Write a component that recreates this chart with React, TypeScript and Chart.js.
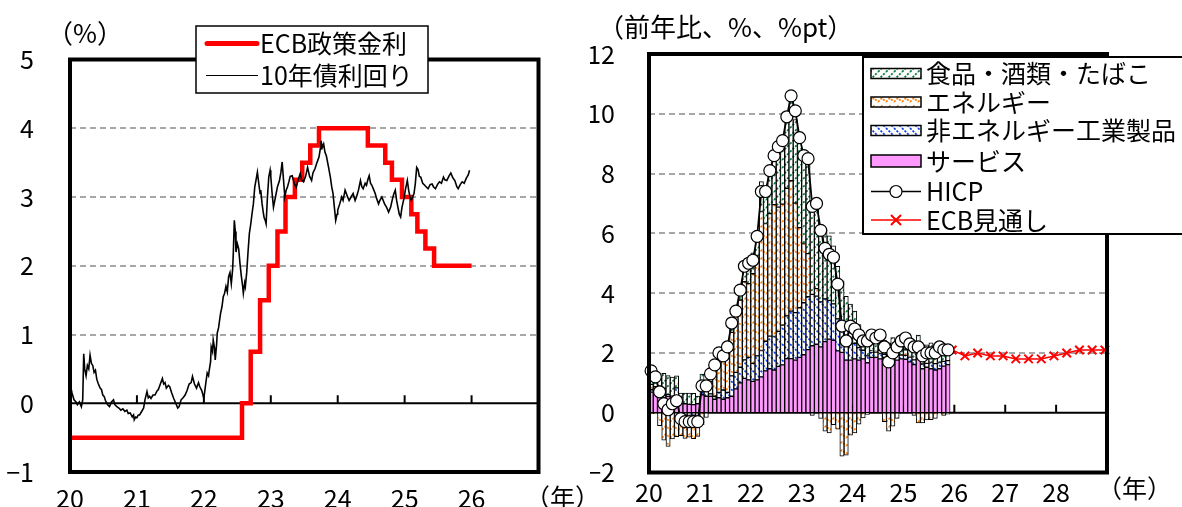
import React, { useEffect, useRef } from 'react';
import { Chart, registerables } from 'chart.js';

Chart.register(...registerables);

const FONT = '"Noto Sans CJK JP", "Noto Sans", sans-serif';

// ---------------- Left panel data ----------------
const leftYearLabels = ['20', '21', '22', '23', '24', '25', '26'];
const leftGridValues = [1, 2, 3, 4];

const policyDates = [2020.0, 2022.57, 2022.7, 2022.84, 2022.97, 2023.1, 2023.22, 2023.36, 2023.47, 2023.59, 2023.72, 2024.45, 2024.71, 2024.81, 2024.96, 2025.1, 2025.19, 2025.31, 2025.44, 2026.0];
const policyRates = [-0.5, 0, 0.75, 1.5, 2.0, 2.5, 3.0, 3.25, 3.5, 3.75, 4.0, 3.75, 3.5, 3.25, 3.0, 2.75, 2.5, 2.25, 2.0, 2.0];

const yieldDates = [
  2020.0, 2020.03, 2020.06, 2020.09, 2020.11, 2020.14, 2020.17, 2020.19, 2020.205, 2020.22, 2020.24, 2020.26, 2020.28, 2020.3, 2020.32, 2020.34, 2020.36, 2020.38, 2020.4, 2020.42, 2020.45, 2020.47, 2020.49, 2020.51, 2020.53, 2020.55, 2020.57, 2020.59, 2020.62, 2020.65, 2020.67, 2020.7, 2020.73, 2020.76, 2020.79, 2020.82, 2020.85, 2020.87, 2020.9, 2020.93, 2020.95, 2020.96, 2020.98,
  2021.0, 2021.02, 2021.04, 2021.07, 2021.1, 2021.12, 2021.15, 2021.17, 2021.19, 2021.21, 2021.24, 2021.27, 2021.3, 2021.32, 2021.35, 2021.38, 2021.4, 2021.42, 2021.44, 2021.47, 2021.49, 2021.52, 2021.55, 2021.58, 2021.61, 2021.63, 2021.66, 2021.69, 2021.72, 2021.75, 2021.78, 2021.81, 2021.83, 2021.86, 2021.89, 2021.92, 2021.94, 2021.97,
  2022.0, 2022.03, 2022.05, 2022.07, 2022.08, 2022.1, 2022.11, 2022.13, 2022.14, 2022.16, 2022.17, 2022.19, 2022.2, 2022.22, 2022.25, 2022.27, 2022.29, 2022.31, 2022.33, 2022.35, 2022.37, 2022.39, 2022.41, 2022.43, 2022.44, 2022.455, 2022.47, 2022.48, 2022.5, 2022.52, 2022.54, 2022.56, 2022.58, 2022.59, 2022.61, 2022.62, 2022.64, 2022.66, 2022.68, 2022.7, 2022.72, 2022.74, 2022.76, 2022.78, 2022.8, 2022.82, 2022.84, 2022.85, 2022.87, 2022.89, 2022.9, 2022.92, 2022.93, 2022.95, 2022.97, 2022.99,
  2023.0, 2023.02, 2023.04, 2023.06, 2023.07, 2023.1, 2023.13, 2023.15, 2023.17, 2023.19, 2023.21, 2023.23, 2023.25, 2023.27, 2023.29, 2023.32, 2023.35, 2023.38, 2023.41, 2023.44, 2023.46, 2023.49, 2023.52, 2023.55, 2023.58, 2023.61, 2023.63, 2023.66, 2023.69, 2023.72, 2023.74, 2023.75, 2023.77, 2023.79, 2023.81, 2023.83, 2023.86, 2023.89, 2023.91, 2023.93, 2023.95, 2023.97, 2023.99,
  2024.0, 2024.03, 2024.06, 2024.08, 2024.11, 2024.14, 2024.17, 2024.2, 2024.23, 2024.26, 2024.28, 2024.31, 2024.34, 2024.36, 2024.38, 2024.41, 2024.43, 2024.45, 2024.47, 2024.49, 2024.51, 2024.54, 2024.56, 2024.58, 2024.61, 2024.63, 2024.66, 2024.68, 2024.7, 2024.73, 2024.76, 2024.79, 2024.82, 2024.84, 2024.86, 2024.88, 2024.9, 2024.92, 2024.94, 2024.96, 2024.99,
  2025.01, 2025.04, 2025.06, 2025.08, 2025.1, 2025.12, 2025.14, 2025.16, 2025.18, 2025.2, 2025.22, 2025.24, 2025.27, 2025.3, 2025.32, 2025.35, 2025.38, 2025.41, 2025.43, 2025.46, 2025.49, 2025.52, 2025.55, 2025.58, 2025.6, 2025.63, 2025.66, 2025.69, 2025.72, 2025.75, 2025.78, 2025.8, 2025.83, 2025.86, 2025.89, 2025.92, 2025.95, 2025.97,
];
const yieldValues = [
  0.29, 0.15, 0.05, 0.02, -0.02, 0.02, -0.05, 0.05, 0.72, 0.5, 0.4, 0.55, 0.5, 0.7, 0.58, 0.55, 0.45, 0.48, 0.35, 0.29, 0.22, 0.2, 0.12, 0.1, 0.04, 0.0, -0.03, -0.05, 0.02, 0.05, -0.02, -0.05, -0.07, -0.1, -0.08, -0.12, -0.1, -0.15, -0.14, -0.2, -0.17, -0.24, -0.2,
  -0.21, -0.17, -0.17, -0.12, -0.07, 0.05, 0.17, 0.08, 0.1, 0.07, 0.12, 0.12, 0.18, 0.2, 0.28, 0.36, 0.28, 0.3, 0.22, 0.26, 0.24, 0.15, 0.07, 0.0, -0.07, -0.05, 0.05, 0.08, 0.12, 0.19, 0.28, 0.3, 0.39, 0.28, 0.22, 0.3, 0.24, 0.18,
  0.07, 0.3, 0.44, 0.4, 0.48, 0.6, 0.82, 0.75, 0.92, 0.8, 0.63, 0.85, 1.02, 1.1, 1.31, 1.4, 1.55, 1.6, 1.7, 1.62, 1.84, 1.9, 1.74, 1.95, 2.18, 2.66, 2.5, 2.2, 2.32, 2.25, 2.03, 1.85, 1.7, 1.6, 1.75, 1.7, 1.9, 2.2, 2.47, 2.6, 2.76, 2.9, 3.14, 3.25, 3.36, 3.2, 3.05, 3.1, 2.9, 2.76, 2.7, 2.65, 2.61, 3.0, 3.29, 3.39,
  3.3, 3.05, 2.85, 2.95, 3.0, 3.15, 3.24, 3.35, 3.51, 3.25, 3.0, 3.1, 3.15, 3.22, 3.3, 3.31, 3.2, 3.14, 3.25, 3.34, 3.25, 3.22, 3.3, 3.43, 3.3, 3.24, 3.35, 3.41, 3.5, 3.58, 3.7, 3.82, 3.72, 3.77, 3.65, 3.6, 3.45, 3.29, 3.15, 3.05, 2.85, 2.66, 2.75,
  2.81, 2.9, 3.0, 2.95, 3.1, 3.02, 2.95, 3.0, 3.05, 2.95, 3.0, 3.1, 3.24, 3.15, 3.12, 3.2, 3.17, 3.25, 3.31, 3.2, 3.17, 3.1, 3.05, 2.98, 2.9, 2.95, 3.0, 2.95, 2.9, 2.85, 2.78, 2.85, 2.98, 3.05, 3.1, 2.95, 2.85, 2.75, 2.71, 2.85, 2.98,
  3.1, 3.24, 3.1, 3.0, 2.95, 3.0, 3.05, 3.2, 3.43, 3.4, 3.3, 3.29, 3.2, 3.17, 3.15, 3.12, 3.18, 3.19, 3.15, 3.12, 3.18, 3.22, 3.2, 3.29, 3.25, 3.24, 3.3, 3.35, 3.28, 3.24, 3.15, 3.12, 3.18, 3.22, 3.2, 3.27, 3.32, 3.39,
];

// ---------------- Right panel data ----------------
const START_YEAR = 2020; // monthly series start (Jan 2020)
const rightYearLabels = ['20', '21', '22', '23', '24', '25', '26', '27', '28'];
const rightGridValues = [2, 4, 6, 8, 10];

const hicp = [
  1.4, 1.2, 0.7, 0.3, 0.1, 0.3, 0.4, -0.2, -0.3, -0.3, -0.3, -0.3,
  0.9, 0.9, 1.3, 1.6, 2.0, 1.9, 2.2, 3.0, 3.4, 4.1, 4.9, 5.0,
  5.1, 5.9, 7.4, 7.4, 8.1, 8.6, 8.9, 9.1, 9.9, 10.6, 10.1, 9.2,
  8.6, 8.5, 6.9, 7.0, 6.1, 5.5, 5.3, 5.2, 4.3, 2.9, 2.4, 2.9,
  2.8, 2.6, 2.4, 2.4, 2.6, 2.5, 2.6, 2.2, 1.7, 2.0, 2.2, 2.4,
  2.5, 2.3, 2.2, 2.2, 1.9, 2.0, 2.0, 2.0, 2.2, 2.1, 2.1,
];
const services = [
  0.69, 0.74, 0.6, 0.5, 0.55, 0.5, 0.41, 0.32, 0.3, 0.28, 0.27, 0.3,
  0.6, 0.55, 0.55, 0.45, 0.5, 0.45, 0.5, 0.55, 0.8, 1.0, 1.15, 1.1,
  1.05, 1.1, 1.2, 1.4, 1.47, 1.43, 1.55, 1.6, 1.81, 1.81, 1.76, 1.85,
  1.94, 2.11, 2.24, 2.29, 2.2, 2.38, 2.46, 2.42, 2.07, 2.02, 1.76, 1.76,
  1.8, 1.76, 1.8, 1.67, 1.85, 1.85, 1.8, 1.85, 1.76, 1.8, 1.76, 1.8,
  1.79, 1.7, 1.61, 1.84, 1.47, 1.52, 1.47, 1.43, 1.47, 1.56, 1.61,
];
const nonEnergyGoods = [
  0.08, 0.13, 0.08, 0.1, 0.05, 0.05, 0.42, -0.03, -0.08, -0.03, -0.08, -0.13,
  0.39, 0.26, 0.08, 0.1, 0.18, 0.31, 0.18, 0.68, 0.55, 0.52, 0.62, 0.75,
  0.6, 0.8, 0.88, 0.99, 1.09, 1.12, 1.17, 1.33, 1.43, 1.59, 1.59, 1.66,
  1.74, 1.77, 1.72, 1.61, 1.51, 1.43, 1.3, 1.22, 1.07, 0.91, 0.75, 0.65,
  0.52, 0.42, 0.29, 0.23, 0.18, 0.18, 0.18, 0.1, 0.1, 0.13, 0.16, 0.13,
  0.13, 0.16, 0.16, 0.16, 0.16, 0.13, 0.21, 0.21, 0.21, 0.16, 0.13,
];
const energy = [
  0.18, -0.03, -0.43, -0.92, -1.13, -0.88, -0.8, -0.74, -0.78, -0.79, -0.79, -0.66,
  -0.4, -0.16, 0.41, 0.99, 1.24, 1.2, 1.36, 1.46, 1.67, 2.25, 2.61, 2.47,
  3.0, 3.36, 4.65, 3.94, 4.1, 4.41, 4.16, 4.05, 4.27, 4.36, 3.66, 2.68,
  1.98, 1.44, -0.09, 0.25, -0.19, -0.62, -0.68, -0.4, -0.55, -1.45, -1.42, -0.75,
  -0.68, -0.38, -0.17, -0.06, 0.03, 0.02, 0.11, -0.3, -0.62, -0.45, -0.19, 0.01,
  0.18, 0.02, -0.09, -0.34, -0.34, -0.24, -0.23, -0.19, -0.04, -0.09, -0.05,
];
const food = [
  0.44, 0.46, 0.48, 0.72, 0.64, 0.64, 0.4, 0.34, 0.36, 0.38, 0.38, 0.26,
  0.3, 0.27, 0.23, 0.15, 0.13, 0.1, 0.33, 0.42, 0.42, 0.4, 0.46, 0.67,
  0.7, 0.84, 1.0, 1.26, 1.5, 1.78, 1.96, 2.12, 2.36, 2.7, 2.8, 2.85,
  2.9, 3.05, 3.1, 2.75, 2.55, 2.3, 2.16, 1.94, 1.76, 1.48, 1.38, 1.22,
  1.08, 0.77, 0.52, 0.56, 0.52, 0.5, 0.46, 0.48, 0.48, 0.58, 0.54, 0.52,
  0.46, 0.54, 0.58, 0.6, 0.64, 0.62, 0.66, 0.64, 0.6, 0.5, 0.5,
];
const projQuarters = ['25Q4', '26Q1', '26Q2', '26Q3', '26Q4', '27Q1', '27Q2', '27Q3', '27Q4', '28Q1', '28Q2', '28Q3', '28Q4'];
const projValues = [2.1, 1.9, 2.0, 1.9, 1.9, 1.8, 1.8, 1.8, 1.9, 2.0, 2.1, 2.1, 2.1];

// ---------------- helpers ----------------
const monthX = (i: number) => START_YEAR + (i + 0.5) / 12;
const quarterX = (q: string) => 2000 + Number(q.slice(0, 2)) + (Number(q.slice(3)) * 3 - 0.5) / 12;
const toPoints = (vals: number[]) => vals.map((v, i) => ({ x: monthX(i), y: v }));

function makePattern(kind: 'food' | 'energy' | 'neig'): CanvasPattern | string {
  const c = document.createElement('canvas');
  c.width = 8;
  c.height = 8;
  const g = c.getContext('2d');
  if (!g) return '#fff';
  g.fillStyle = '#ffffff';
  g.fillRect(0, 0, 8, 8);
  g.lineWidth = 1.7;
  g.setLineDash([2.2, 1.4]);
  if (kind === 'food') {
    g.strokeStyle = '#0c7a3c';
    for (let k = -1; k <= 1; k++) {
      g.beginPath();
      g.moveTo(k * 8, 8);
      g.lineTo(k * 8 + 8, 0);
      g.stroke();
    }
  } else if (kind === 'neig') {
    g.strokeStyle = '#1245e6';
    for (let k = -1; k <= 1; k++) {
      g.beginPath();
      g.moveTo(k * 8, 0);
      g.lineTo(k * 8 + 8, 8);
      g.stroke();
    }
  } else {
    g.strokeStyle = '#ff800a';
    g.beginPath();
    g.moveTo(0, 6);
    g.lineTo(4, 2);
    g.lineTo(8, 6);
    g.stroke();
  }
  const p = g.createPattern(c, 'repeat');
  return p || '#fff';
}

function text(ctx: CanvasRenderingContext2D, s: string, x: number, y: number, size = 25) {
  ctx.font = `${size}px ${FONT}`;
  ctx.textAlign = 'left';
  ctx.textBaseline = 'middle';
  ctx.fillStyle = '#000';
  ctx.fillText(s, x, y);
}

function drawFrameBase(chart: any, gridValues: number[]) {
  const { ctx, chartArea: a, scales } = chart;
  const x = scales.x;
  const y = scales.y;
  ctx.save();
  ctx.strokeStyle = '#8a8a8a';
  ctx.lineWidth = 1.7;
  ctx.setLineDash([6, 4]);
  for (const v of gridValues) {
    const py = Math.round(y.getPixelForValue(v));
    ctx.beginPath();
    ctx.moveTo(a.left, py);
    ctx.lineTo(a.right, py);
    ctx.stroke();
  }
  ctx.setLineDash([]);
  const y0 = y.getPixelForValue(0);
  ctx.strokeStyle = '#000';
  ctx.lineWidth = 2;
  ctx.beginPath();
  ctx.moveTo(a.left, y0);
  ctx.lineTo(a.right, y0);
  ctx.stroke();
  for (const t of x.ticks) {
    if (t.value <= x.min || t.value >= x.max) continue;
    const px = x.getPixelForValue(t.value);
    ctx.beginPath();
    ctx.moveTo(px, y0);
    ctx.lineTo(px, y0 - 8);
    ctx.stroke();
  }
  ctx.restore();
}

function drawBorder(chart: any) {
  const { ctx, chartArea: a } = chart;
  ctx.save();
  ctx.strokeStyle = '#000';
  ctx.lineWidth = 4;
  ctx.strokeRect(a.left, a.top, a.right - a.left, a.bottom - a.top);
  ctx.restore();
}

const leftFrame = {
  id: 'leftFrame',
  beforeDatasetsDraw(chart: any) {
    drawFrameBase(chart, leftGridValues);
  },
  afterDatasetsDraw(chart: any) {
    const { ctx } = chart;
    drawBorder(chart);
    const ds = chart.data.datasets;
    ctx.save();
    ctx.fillStyle = '#fff';
    ctx.fillRect(196, 26, 232, 67);
    ctx.strokeStyle = '#000';
    ctx.lineWidth = 1.5;
    ctx.strokeRect(196, 26, 232, 67);
    ctx.strokeStyle = ds[1].borderColor;
    ctx.lineWidth = 5;
    ctx.lineCap = 'round';
    ctx.beginPath();
    ctx.moveTo(207, 43.5);
    ctx.lineTo(257, 43.5);
    ctx.stroke();
    ctx.lineCap = 'butt';
    text(ctx, ds[1].label, 260, 43);
    ctx.strokeStyle = ds[0].borderColor;
    ctx.lineWidth = 1.2;
    ctx.beginPath();
    ctx.moveTo(206, 75.5);
    ctx.lineTo(258, 75.5);
    ctx.stroke();
    text(ctx, ds[0].label, 260, 75);
    text(ctx, '（%）', 47, 33, 26);
    text(ctx, '（年）', 525, 497);
    ctx.restore();
  },
};

const rightFrame = {
  id: 'rightFrame',
  beforeDatasetsDraw(chart: any) {
    drawFrameBase(chart, rightGridValues);
  },
  afterDatasetsDraw(chart: any) {
    const { ctx } = chart;
    drawBorder(chart);
    const ds = chart.data.datasets;
    ctx.save();
    const bx = 273;
    const by = 57;
    ctx.fillStyle = '#fff';
    ctx.fillRect(bx, by, 340, 177);
    ctx.strokeStyle = '#000';
    ctx.lineWidth = 2;
    ctx.strokeRect(bx, by, 340, 177);
    const rows = [3, 2, 1, 0, 4, 5];
    const rowY = [73.5, 102, 130.5, 161, 191.5, 220];
    rows.forEach((di, r) => {
      const d = ds[di];
      const cy = rowY[r];
      if (d.type === 'line') {
        ctx.strokeStyle = d.borderColor;
        ctx.lineWidth = 1.5;
        ctx.beginPath();
        ctx.moveTo(281, cy);
        ctx.lineTo(331, cy);
        ctx.stroke();
        if (d.pointStyle === 'crossRot') {
          ctx.lineWidth = 2;
          const s = 5;
          ctx.beginPath();
          ctx.moveTo(306 - s, cy - s);
          ctx.lineTo(306 + s, cy + s);
          ctx.moveTo(306 + s, cy - s);
          ctx.lineTo(306 - s, cy + s);
          ctx.stroke();
        } else {
          ctx.fillStyle = '#fff';
          ctx.lineWidth = 1.2;
          ctx.beginPath();
          ctx.arc(306, cy, 6, 0, Math.PI * 2);
          ctx.fill();
          ctx.stroke();
        }
      } else {
        const h = di === 0 ? 12 : 10;
        ctx.fillStyle = d.backgroundColor;
        ctx.fillRect(281, cy - h / 2, 50, h);
        ctx.strokeStyle = '#000';
        ctx.lineWidth = 1.5;
        ctx.strokeRect(281, cy - h / 2, 50, h);
      }
      text(ctx, d.label, 336, cy);
    });
    text(ctx, '（前年比、%、%pt）', 8, 27, 26);
    text(ctx, '（年）', 507, 488);
    ctx.restore();
  },
};

function yLabel(v: number) {
  return v < 0 ? '\u2212' + String(-v) : String(v);
}

function leftConfig(): any {
  return {
    type: 'line',
    data: {
      datasets: [
        {
          label: '10年債利回り',
          data: yieldDates.map((d, i) => ({ x: d, y: yieldValues[i] })),
          borderColor: '#000000',
          borderWidth: 1.6,
          pointRadius: 0,
          tension: 0,
        },
        {
          label: 'ECB政策金利',
          data: policyDates.map((d, i) => ({ x: d, y: policyRates[i] })),
          borderColor: '#ff0000',
          borderWidth: 4.5,
          pointRadius: 0,
          stepped: 'before',
          borderJoinStyle: 'miter',
        },
      ],
    },
    options: {
      responsive: false,
      animation: false,
      devicePixelRatio: 1,
      layout: { padding: { top: 59.5, right: 51.5, left: 0, bottom: 0 } },
      plugins: { legend: { display: false }, tooltip: { enabled: false } },
      scales: {
        x: {
          type: 'linear',
          min: 2020,
          max: 2027,
          offset: false,
          grid: { display: false, drawTicks: true, tickLength: 11 },
          border: { display: false },
          ticks: {
            stepSize: 1,
            autoSkip: false,
            maxRotation: 0,
            padding: 0,
            color: '#000',
            font: { family: FONT, size: 25 },
            callback: (v: number) => leftYearLabels[Math.round(v) - 2020] ?? '',
          },
          afterFit: (s: any) => {
            s.height = 35;
          },
        },
        y: {
          min: -1,
          max: 5,
          grid: { display: false, drawTicks: true, tickLength: 36 },
          border: { display: false },
          ticks: {
            stepSize: 1,
            padding: 0,
            color: '#000',
            font: { family: FONT, size: 25 },
            callback: (v: number) => yLabel(v),
          },
          afterFit: (s: any) => {
            s.width = 70;
          },
        },
      },
    },
    plugins: [leftFrame],
  };
}

function rightConfig(): any {
  const barCommon = {
    type: 'bar',
    stack: 'contrib',
    borderColor: '#000',
    borderWidth: { left: 1, right: 1, top: 1, bottom: 1 },
    borderSkipped: false,
    barPercentage: 1,
    categoryPercentage: 1,
  };
  return {
    type: 'bar',
    data: {
      datasets: [
        { ...barCommon, label: 'サービス', order: 1, data: toPoints(services), backgroundColor: '#ff99ff' },
        { ...barCommon, label: '非エネルギー工業製品', order: 2, data: toPoints(nonEnergyGoods), backgroundColor: makePattern('neig') },
        { ...barCommon, label: 'エネルギー', order: 3, data: toPoints(energy), backgroundColor: makePattern('energy') },
        { ...barCommon, label: '食品・酒類・たばこ', order: 4, data: toPoints(food), backgroundColor: makePattern('food') },
        {
          type: 'line',
          label: 'HICP',
          stack: 'hicp',
          order: 0,
          data: toPoints(hicp),
          borderColor: '#000',
          borderWidth: 1.8,
          pointRadius: 6,
          pointBackgroundColor: '#fff',
          pointBorderColor: '#000',
          pointBorderWidth: 1.2,
          pointStyle: 'circle',
          tension: 0,
          clip: false,
        },
        {
          type: 'line',
          label: 'ECB見通し',
          stack: 'proj',
          order: 0,
          data: projQuarters.map((q, i) => ({ x: quarterX(q), y: projValues[i] })),
          borderColor: '#ff0000',
          borderWidth: 1.5,
          pointRadius: 6,
          pointStyle: 'crossRot',
          pointBorderColor: '#ff0000',
          pointBorderWidth: 2,
          tension: 0,
          clip: false,
        },
      ],
    },
    options: {
      responsive: false,
      animation: false,
      devicePixelRatio: 1,
      layout: { padding: { top: 54, right: 75, left: 0, bottom: 0 } },
      plugins: { legend: { display: false }, tooltip: { enabled: false } },
      scales: {
        x: {
          type: 'linear',
          min: 2020,
          max: 2029,
          offset: false,
          grid: { display: false, drawTicks: true, tickLength: 5, offset: false },
          border: { display: false },
          ticks: {
            stepSize: 1,
            autoSkip: false,
            maxRotation: 0,
            padding: 0,
            color: '#000',
            font: { family: FONT, size: 25 },
            callback: (v: number) => rightYearLabels[Math.round(v) - 2020] ?? '',
          },
          afterFit: (s: any) => {
            s.height = 34.5;
          },
        },
        y: {
          stacked: true,
          min: -2,
          max: 12,
          grid: { display: false, drawTicks: true, tickLength: 34 },
          border: { display: false },
          ticks: {
            stepSize: 2,
            padding: 0,
            color: '#000',
            font: { family: FONT, size: 25 },
            callback: (v: number) => yLabel(v),
          },
          afterFit: (s: any) => {
            s.width = 59;
          },
        },
      },
    },
    plugins: [rightFrame],
  };
}

export default function App() {
  const leftRef = useRef<HTMLCanvasElement>(null);
  const rightRef = useRef<HTMLCanvasElement>(null);
  useEffect(() => {
    const c1 = new Chart(leftRef.current as HTMLCanvasElement, leftConfig());
    const c2 = new Chart(rightRef.current as HTMLCanvasElement, rightConfig());
    return () => {
      c1.destroy();
      c2.destroy();
    };
  }, []);
  return (
    <div style={{ position: 'fixed', left: 0, top: 0, width: 1182, height: 507, background: '#fff', overflow: 'hidden' }}>
      <canvas ref={leftRef} width={590} height={507} style={{ position: 'absolute', left: 0, top: 0, width: 590, height: 507 }} />
      <canvas ref={rightRef} width={592} height={507} style={{ position: 'absolute', left: 590, top: 0, width: 592, height: 507 }} />
    </div>
  );
}
